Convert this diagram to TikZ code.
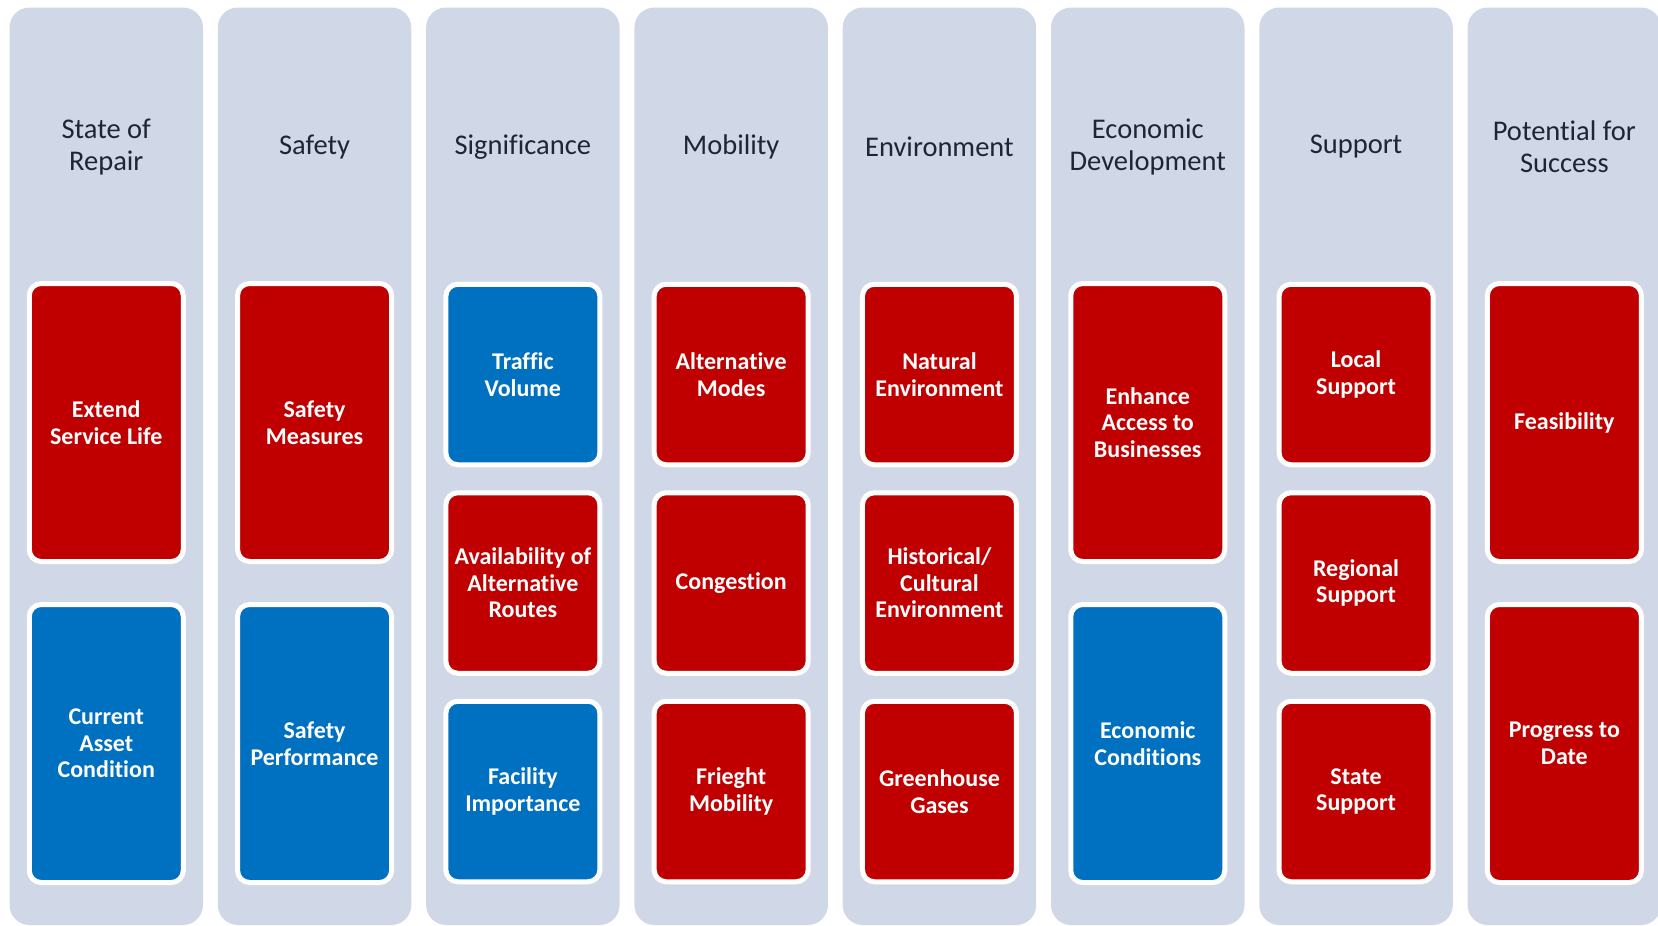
\documentclass[tikz,border=0pt]{standalone}
\usepackage{fontspec}
\setmainfont{Carlito}[Ligatures=NoCommon]
\usetikzlibrary{positioning}
\definecolor{colbg}{HTML}{D0D8E8}
\definecolor{critred}{HTML}{C00000}
\definecolor{critblue}{HTML}{0070C0}
\definecolor{headtext}{HTML}{1E2636}

\begin{document}
\begin{tikzpicture}[x=1pt,y=-1pt,
            column/.style={fill=colbg,rounded corners=20pt,minimum width=193.5pt,minimum height=917.5pt,inner sep=0pt},
            head/.style={text=headtext,align=center,inner sep=0pt,font=\fontsize{28.5}{32}\selectfont},
            crit/.style={draw=white,line width=5pt,rounded corners=12pt,minimum width=154pt,inner sep=0pt,align=center,text=white,font=\fontsize{24}{26.5}\selectfont\bfseries},
            tall/.style={crit,minimum height=278pt},
            short/.style={crit,minimum height=180.5pt},
            redbox/.style={fill=critred},
            bluebox/.style={fill=critblue}]
            \clip (0,0) rectangle (1658,926);

            \node[column] (c1) at (106.25,466.25) {};
            \node[column] (c2) at (314.55,466.25) {};
            \node[column] (c3) at (522.85,466.25) {};
            \node[column] (c4) at (731.15,466.25) {};
            \node[column] (c5) at (939.45,466.25) {};
            \node[column] (c6) at (1147.75,466.25) {};
            \node[column] (c7) at (1356.05,466.25) {};
            \node[column] (c8) at (1564.35,466.25) {};

            \node[head] (h1) at (106.25,147) {State of\\Repair};
            \node[head] (h2) at (314.55,147) {Safety};
            \node[head] (h3) at (522.85,147) {Significance};
            \node[head] (h4) at (731.15,147) {Mobility};
            \node[head] (h5) at (939.45,147) {Environment};
            \node[head] (h6) at (1147.75,147) {Economic\\Development};
            \node[head] (h7) at (1356.05,147) {Support};
            \node[head] (h8) at (1564.35,147) {Potential for\\Success};

            \node[tall,redbox] (b11) at (106.25,422.5) {Extend\\Service Life};
            \node[tall,bluebox] (b12) [below=38pt of b11] {Current\\Asset\\Condition};

            \node[tall,redbox] (b21) at (314.55,422.5) {Safety\\Measures};
            \node[tall,bluebox] (b22) [below=38pt of b21] {Safety\\Performance};

            \node[short,bluebox] (b31) at (522.85,374.5) {Traffic\\Volume};
            \node[short,redbox] (b32) [below=23pt of b31] {Availability of\\Alternative\\Routes};
            \node[short,bluebox] (b33) [below=23pt of b32] {Facility\\Importance};

            \node[short,redbox] (b41) at (731.15,374.5) {Alternative\\Modes};
            \node[short,redbox] (b42) [below=23pt of b41] {Congestion};
            \node[short,redbox] (b43) [below=23pt of b42] {Frieght\\Mobility};

            \node[short,redbox] (b51) at (939.45,374.5) {Natural\\Environment};
            \node[short,redbox] (b52) [below=23pt of b51] {Historical/\\Cultural\\Environment};
            \node[short,redbox] (b53) [below=23pt of b52] {Greenhouse\\Gases};

            \node[tall,redbox] (b61) at (1147.75,422.5) {Enhance\\Access to\\Businesses};
            \node[tall,bluebox] (b62) [below=38pt of b61] {Economic\\Conditions};

            \node[short,redbox] (b71) at (1356.05,374.5) {Local\\Support};
            \node[short,redbox] (b72) [below=23pt of b71] {Regional\\Support};
            \node[short,redbox] (b73) [below=23pt of b72] {State\\Support};

            \node[tall,redbox] (b81) at (1564.35,422.5) {Feasibility};
            \node[tall,redbox] (b82) [below=38pt of b81] {Progress to\\Date};
\end{tikzpicture}
\end{document}
